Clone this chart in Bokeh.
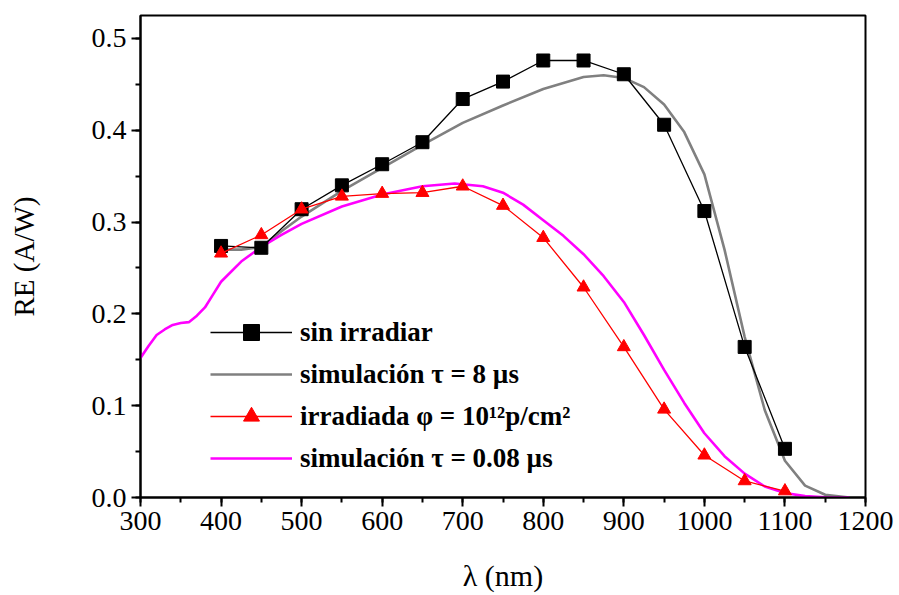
from bokeh.plotting import figure
from bokeh.models import Range1d, SingleIntervalTicker, Legend, LegendItem, NumeralTickFormatter
from bokeh.embed import file_html
from bokeh.resources import INLINE

# measured data (sin irradiar)
wl_meas = [400, 450, 500, 550, 600, 650, 700, 750, 800, 850, 900, 950, 1000, 1050, 1100]
re_sin = [0.274, 0.272, 0.314, 0.340, 0.363, 0.387, 0.434, 0.453, 0.476, 0.476, 0.461, 0.406, 0.312, 0.164, 0.053]
# irradiated
re_irr = [0.266, 0.286, 0.314, 0.328, 0.331, 0.332, 0.339, 0.318, 0.283, 0.229, 0.164, 0.096, 0.046, 0.018, 0.007]

# simulation tau = 8 us
wl_sim8 = [400, 425, 450, 475, 500, 550, 600, 650, 700, 750, 800, 850, 875, 900, 925, 950, 975, 1000,
           1025, 1050, 1075, 1100, 1125, 1150, 1180]
re_sim8 = [0.270, 0.270, 0.273, 0.290, 0.306, 0.334, 0.359, 0.384, 0.408, 0.427, 0.445, 0.458, 0.460,
           0.457, 0.447, 0.428, 0.398, 0.352, 0.270, 0.175, 0.095, 0.040, 0.013, 0.003, 0.0]

# simulation tau = 0.08 us
wl_sim008 = [300, 310, 320, 330, 340, 350, 360, 370, 380, 390, 400, 425, 450, 475, 500, 550, 600, 650,
             690, 725, 750, 775, 800, 825, 850, 875, 900, 925, 950, 975, 1000, 1025, 1050, 1075, 1100,
             1125, 1150, 1180]
re_sim008 = [0.152, 0.165, 0.177, 0.183, 0.188, 0.190, 0.191, 0.198, 0.207, 0.221, 0.235, 0.257, 0.273,
             0.286, 0.298, 0.317, 0.330, 0.339, 0.342, 0.339, 0.332, 0.319, 0.302, 0.285, 0.265, 0.241,
             0.213, 0.177, 0.139, 0.103, 0.070, 0.045, 0.026, 0.012, 0.005, 0.0015, 0.0003, 0.0]

labels = ["sin irradiar", "simulación τ = 8 µs", "irradiada φ = 10¹²p/cm²", "simulación τ = 0.08 µs"]
x_title = "λ (nm)"
y_title = "RE (A/W)"

FONT = "Liberation Serif"

p = figure(width=899, height=595, output_backend="svg", toolbar_location=None,
           x_range=Range1d(300, 1200), y_range=Range1d(0, 0.525),
           min_border_left=140, min_border_right=34, min_border_top=15, min_border_bottom=98)
p.xgrid.visible = False
p.ygrid.visible = False
p.outline_line_color = "black"
p.outline_line_width = 2
p.outline_line_alpha = 1.0

r_gray = p.line(wl_sim8, re_sim8, line_color="#808080", line_width=2.6)
r_mag = p.line(wl_sim008, re_sim008, line_color="#ff00ff", line_width=2.6)
r_bl = p.line(wl_meas, re_sin, line_color="black", line_width=1.3)
r_bs = p.scatter(wl_meas, re_sin, marker="square", size=13, fill_color="black", line_color="black")
r_rl = p.line(wl_meas, re_irr, line_color="red", line_width=1.3)
r_rt = p.scatter(wl_meas, re_irr, marker="triangle", size=13, fill_color="red", line_color="red")

for ax in (p.xaxis[0], p.yaxis[0]):
    ax.axis_line_width = 2
    ax.major_tick_line_width = 2
    ax.minor_tick_line_width = 2
    ax.major_tick_out = 9
    ax.major_tick_in = 0
    ax.minor_tick_out = 5
    ax.minor_tick_in = 0
    ax.major_label_text_font = FONT
    ax.major_label_text_font_size = "28px"
    ax.major_label_text_color = "black"
    ax.axis_label_text_font = FONT
    ax.axis_label_text_font_style = "normal"
    ax.axis_label_text_color = "black"

p.xaxis.axis_label_text_font_size = "30px"
p.yaxis.axis_label_text_font_size = "29px"
p.xaxis.ticker = SingleIntervalTicker(interval=100, num_minor_ticks=2)
p.yaxis.ticker = SingleIntervalTicker(interval=0.1, num_minor_ticks=2)
p.yaxis.formatter = NumeralTickFormatter(format="0.0")
p.xaxis.axis_label = x_title
p.yaxis.axis_label = y_title
p.xaxis.major_label_standoff = 5
p.yaxis.major_label_standoff = 5
p.xaxis.axis_label_standoff = 26
p.yaxis.axis_label_standoff = 49

legend = Legend(items=[
    LegendItem(label=labels[0], renderers=[r_bl, r_bs]),
    LegendItem(label=labels[1], renderers=[r_gray]),
    LegendItem(label=labels[2], renderers=[r_rl, r_rt]),
    LegendItem(label=labels[3], renderers=[r_mag]),
], location=(70, 19))
legend.padding = 0
legend.margin = 0
legend.spacing = 2
legend.glyph_width = 82
legend.glyph_height = 40
legend.label_height = 40
legend.label_standoff = 8
legend.label_text_font = FONT
legend.label_text_font_size = "27px"
legend.label_text_font_style = "bold"
legend.label_text_color = "black"
legend.background_fill_alpha = 0
legend.border_line_alpha = 0
p.add_layout(legend)

open("out.html", "w").write(file_html(p, INLINE))
